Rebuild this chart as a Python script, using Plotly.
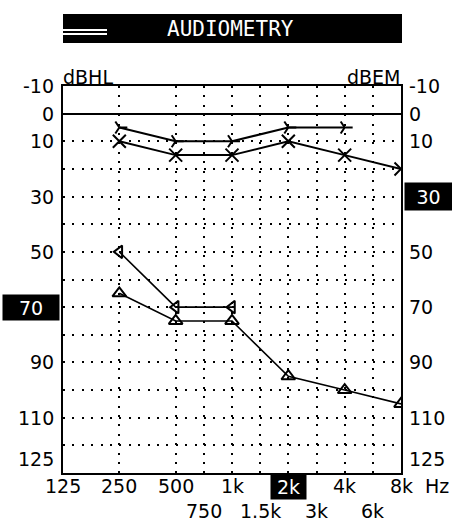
import plotly.graph_objects as go

# ---------------- data ----------------
freq_categories = ["125", "177", "250", "354", "500", "750", "1k", "1.5k", "2k", "3k", "4k", "6k", "8k"]
freq_grid = ["250", "500", "750", "1k", "1.5k", "2k", "3k", "4k", "6k"]
freq_labels_row1 = ["125", "250", "500", "1k", "2k", "4k", "8k"]
freq_labels_row2 = ["750", "1.5k", "3k", "6k"]
freq_highlight = "2k"

db_grid = [10, 20, 30, 40, 50, 60, 70, 80, 90, 100, 110, 120]
db_labels = [-10, 0, 10, 30, 50, 70, 90, 110, 125]
db_left_highlight = 70
db_right_highlight = 30

air_freqs = ["250", "500", "1k", "2k", "4k", "8k"]
air_db = [10, 15, 15, 10, 15, 20]

bone_freqs = ["250", "500", "1k", "2k", "4k"]
bone_db = [5, 10, 10, 5, 5]

masked_bone_freqs = ["250", "500", "1k"]
masked_bone_db = [50, 70, 70]

tri_freqs = ["250", "500", "1k", "2k", "4k", "8k"]
tri_db = [65, 75, 75, 95, 100, 105]

# ---------------- layout geometry ----------------
W, H = 452, 523
L, R, T, B = 63, 401, 86, 473
FONT = "DejaVu Sans"


def px_x(px):
    return (px - L) / (R - L)


def px_y(py):
    return (B - py) / (B - T)


def cat(f):
    return freq_categories.index(f)


fig = go.Figure()

line_style = dict(color="black", width=2)
fig.add_trace(go.Scatter(
    x=air_freqs, y=air_db, mode="lines+markers", line=line_style,
    marker=dict(symbol="x-thin-open", size=13, color="black",
                line=dict(color="black", width=2)),
    showlegend=False))
fig.add_trace(go.Scatter(
    x=bone_freqs, y=bone_db, mode="lines+markers", line=line_style,
    marker=dict(symbol="y-right-open", size=10, color="black",
                line=dict(color="black", width=2)),
    showlegend=False))
fig.add_trace(go.Scatter(
    x=masked_bone_freqs, y=masked_bone_db, mode="lines+markers",
    line=dict(color="black", width=1.6),
    marker=dict(symbol="triangle-left-open", size=11, color="black",
                line=dict(color="black", width=2)),
    showlegend=False))
fig.add_trace(go.Scatter(
    x=tri_freqs, y=tri_db, mode="lines+markers",
    line=dict(color="black", width=1.6),
    marker=dict(symbol="triangle-up-open", size=12, color="black",
                line=dict(color="black", width=2)),
    showlegend=False))

grid_common = dict(showgrid=True, gridcolor="black", gridwidth=2, griddash="2px,7.4px",
                   showline=True, mirror=True, linecolor="black", linewidth=2,
                   ticks="", showticklabels=False, fixedrange=True)

fig.update_layout(
    width=W, height=H, autosize=False,
    margin=dict(l=L, r=W - R, t=T, b=H - B, pad=0),
    paper_bgcolor="white", plot_bgcolor="white",
    font=dict(family=FONT, color="black", size=19),
    xaxis=dict(type="category", categoryorder="array", categoryarray=freq_categories,
               range=[0, len(freq_categories) - 1], tickvals=freq_grid,
               zeroline=False, **grid_common),
    yaxis=dict(range=[130, -10], tickvals=db_grid, zeroline=True,
               zerolinecolor="black", zerolinewidth=2, **grid_common),
)

ann = []
# y labels left / right
for v in db_labels:
    if v == db_left_highlight:
        ann.append(dict(x=0, xref="paper", y=v, yref="y", text=str(v), showarrow=False,
                        xanchor="right", yanchor="middle", xshift=-3, width=56, height=25,
                        borderpad=0, bgcolor="black", font=dict(color="white", size=19)))
    else:
        ann.append(dict(x=0, xref="paper", y=v, yref="y", text=str(v), showarrow=False,
                        xanchor="right", yanchor="middle", xshift=-7))
    if v == db_right_highlight:
        ann.append(dict(x=1, xref="paper", y=v, yref="y", text=str(v), showarrow=False,
                        xanchor="left", yanchor="middle", xshift=3, width=47, height=27,
                        borderpad=0, bgcolor="black", font=dict(color="white", size=19)))
    else:
        ann.append(dict(x=1, xref="paper", y=v, yref="y", text=str(v), showarrow=False,
                        xanchor="left", yanchor="middle", xshift=6))

# x labels
for f in freq_labels_row1:
    if f == freq_highlight:
        ann.append(dict(x=cat(f), xref="x", y=0, yref="paper", text=f, showarrow=False,
                        xanchor="center", yanchor="top", yshift=-1, width=35, height=24,
                        borderpad=0, bgcolor="black", font=dict(color="white", size=19)))
    else:
        ann.append(dict(x=cat(f), xref="x", y=0, yref="paper", text=f, showarrow=False,
                        xanchor="center", yanchor="middle", yshift=-13))
for f in freq_labels_row2:
    ann.append(dict(x=cat(f), xref="x", y=0, yref="paper", text=f, showarrow=False,
                    xanchor="center", yanchor="middle", yshift=-38))
ann.append(dict(x=px_x(437), xref="paper", y=0, yref="paper", text="Hz", showarrow=False,
                xanchor="center", yanchor="middle", yshift=-13))

# unit labels
ann.append(dict(x=0, xref="paper", y=1, yref="paper", text="dBHL", showarrow=False,
                xanchor="left", yanchor="bottom", yshift=-4, xshift=-2))
ann.append(dict(x=1, xref="paper", y=1, yref="paper", text="dBEM", showarrow=False,
                xanchor="right", yanchor="bottom", yshift=-4, xshift=2))

# title
ann.append(dict(x=px_x(230), xref="paper", y=px_y(29), yref="paper", text="AUDIOMETRY",
                showarrow=False, xanchor="center", yanchor="middle",
                font=dict(family="DejaVu Sans Mono", color="white", size=21)))

fig.update_layout(annotations=ann)

shapes = [
    dict(type="rect", xref="paper", yref="paper", x0=px_x(63), x1=px_x(402),
         y0=px_y(43), y1=px_y(14), fillcolor="black", line=dict(width=0), layer="below"),
    dict(type="line", xref="paper", yref="paper", x0=px_x(63), x1=px_x(107),
         y0=px_y(30), y1=px_y(30), line=dict(color="white", width=2)),
    dict(type="line", xref="paper", yref="paper", x0=px_x(63), x1=px_x(107),
         y0=px_y(34), y1=px_y(34), line=dict(color="white", width=2)),
]
fig.update_layout(shapes=shapes)

fig.write_html("out.html", config={"displayModeBar": False},
               post_script="document.body.style.margin='0';document.body.style.padding='0';")
